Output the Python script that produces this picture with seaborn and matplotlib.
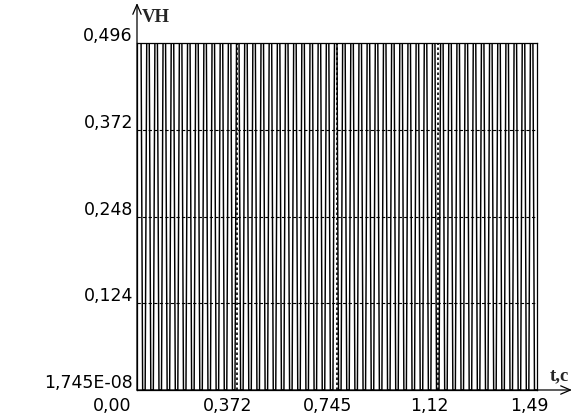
import numpy as np
import pandas as pd
import matplotlib
matplotlib.use("Agg")
import matplotlib.pyplot as plt
import matplotlib.transforms as mtransforms
import seaborn as sns

# Output voltage levels, one per switching interval (V)
H = 0.496
L = 1.745e-08
levels = [
    H, L, H, L, H, L, H, L, H, L, H, L, H, L, H, L, H, L, H, L,
    H, L, H, L, H, L, H, L, H, L, H, L, H, L, H, L, H, L, H, L,
    H, L, H, L, H, L, H, L, H, L, H, L, H, L, H, L, H, L, H, L,
    H, L, H, L, H, L, H, L, H, L, H, L, H, L, H, L, H, L, H, L,
    H, L, H, L, H, L, H, L, H, L, H, L, H, L, H, L, H, L,
]
t_start = 0.0
t_end = 1.49
edge_time = 0.0058  # duration of each switching edge, s

x_ticks = [0.0, 0.372, 0.745, 1.12, 1.49]
x_tick_labels = ["0,00", "0,372", "0,745", "1,12", "1,49"]
y_ticks = [1.745e-08, 0.124, 0.248, 0.372, 0.496]
y_tick_labels = ["1,745E-08", "0,124", "0,248", "0,372", "0,496"]

# each level starts after a short edge and is held until the next interval
period = (t_end - t_start) / len(levels)
k = np.arange(len(levels))
t = np.column_stack([t_start + k * period + edge_time,
                     t_start + (k + 1) * period]).ravel()
v = np.repeat(levels, 2)
df = pd.DataFrame({"t": t, "v": v})

sns.set_style("white")
plt.rcParams["font.family"] = ["DejaVu Sans"]

W, Hpx = 574, 416
fig = plt.figure(figsize=(W / 100, Hpx / 100), dpi=100)
ax_left, ax_right, ax_top, ax_bottom = 137, 537, 43, 390
ax = fig.add_axes([ax_left / W, (Hpx - ax_bottom) / Hpx,
                   (ax_right - ax_left) / W, (ax_bottom - ax_top) / Hpx])

sns.lineplot(data=df, x="t", y="v", ax=ax, color="black", lw=1.05,
             estimator=None, sort=False, zorder=2)

ax.set_xlim(t_start, t_end)
ax.set_ylim(y_ticks[0], y_ticks[-1])
ax.set_xlabel("")
ax.set_ylabel("")
ax.set_xticks([])
ax.set_yticks([])
for s in ax.spines.values():
    s.set_color("black")
    s.set_linewidth(0.9)
    s.set_visible(True)

# reference lines
for yv in y_ticks[1:-1]:
    ax.axhline(yv, color="black", lw=0.8, ls=(0, (3, 2)), zorder=3)
for xv in x_ticks[1:-1]:
    ax.axvline(xv, color="black", lw=1.2, ls=(0, (1.5, 1.5)), zorder=3)

# tick labels placed beside the axes
tick_font = dict(fontsize=12.5, color="black")
ytrans = mtransforms.offset_copy(ax.get_yaxis_transform(), fig=fig, x=-4, y=7, units="dots")
for yv, lab in zip(y_ticks, y_tick_labels):
    ax.text(0, yv, lab, transform=ytrans, ha="right", va="center", **tick_font)
x_shift = [-25, -9, -9, -8, -8]
for xv, lab, dx in zip(x_ticks, x_tick_labels, x_shift):
    tr = mtransforms.offset_copy(ax.get_xaxis_transform(), fig=fig, x=dx, y=-16, units="dots")
    ax.text(xv, 0, lab, transform=tr, ha="center", va="center", **tick_font)

# axis arrows
arrow = dict(arrowstyle="->,head_length=0.7,head_width=0.3", lw=0.9, color="black",
             shrinkA=0, shrinkB=0)
ax.annotate("", xy=(ax_left, Hpx - 3), xytext=(ax_left, Hpx - ax_bottom),
            xycoords="figure pixels", textcoords="figure pixels", arrowprops=arrow)
ax.annotate("", xy=(572, Hpx - ax_bottom), xytext=(ax_left, Hpx - ax_bottom),
            xycoords="figure pixels", textcoords="figure pixels", arrowprops=arrow)

fig.text(142 / W, (Hpx - 17) / Hpx, "VH", ha="left", va="center",
         fontsize=13.5, fontweight="bold", family="Liberation Serif")
fig.text(559 / W, (Hpx - 376) / Hpx, "t,c", ha="center", va="center",
         fontsize=13.5, fontweight="bold", family="Liberation Serif")

fig.savefig("out.png", dpi=100)
